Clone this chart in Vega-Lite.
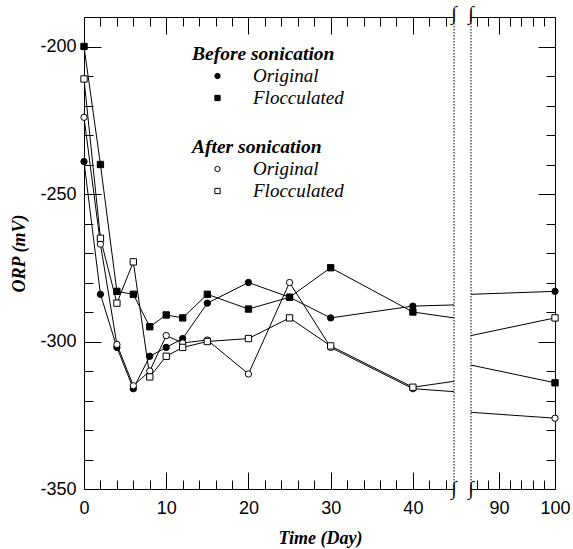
{
  "$schema": "https://vega.github.io/schema/vega-lite/v6.json",
  "padding": {"left": 10, "top": 4, "right": 0, "bottom": 5},
  "bounds": "flush",
  "spacing": 17,
  "config": {
    "view": {"stroke": null},
    "axis": {"domainColor": "black", "tickColor": "black", "labelColor": "black", "titleColor": "black", "labelFont": "Liberation Sans", "labelFontSize": 18, "labelFlush": false, "labelExpr": "'' + datum.value", "titleFont": "Liberation Serif", "titleFontSize": 18, "titleFontWeight": "bold", "titleFontStyle": "italic", "grid": false, "domainWidth": 1, "tickWidth": 1},
    "legend": {"titleFont": "Liberation Serif", "titleFontSize": 19.5, "titleFontWeight": "bold", "titleFontStyle": "italic", "titleColor": "black", "labelFont": "Liberation Serif", "labelFontSize": 19, "labelFontStyle": "italic", "labelColor": "black", "symbolSize": 28, "symbolOffset": 16, "labelOffset": 26, "rowPadding": 2, "titlePadding": 2, "padding": 0, "symbolStrokeWidth": 1}
  },
  "datasets": {
    "orp": [
      {"series": "BO", "stage": "Before sonication", "type": "Original", "day": 0, "orp": -239},
      {"series": "BO", "stage": "Before sonication", "type": "Original", "day": 2, "orp": -284},
      {"series": "BO", "stage": "Before sonication", "type": "Original", "day": 4, "orp": -302},
      {"series": "BO", "stage": "Before sonication", "type": "Original", "day": 6, "orp": -316},
      {"series": "BO", "stage": "Before sonication", "type": "Original", "day": 8, "orp": -305},
      {"series": "BO", "stage": "Before sonication", "type": "Original", "day": 10, "orp": -302},
      {"series": "BO", "stage": "Before sonication", "type": "Original", "day": 12, "orp": -299},
      {"series": "BO", "stage": "Before sonication", "type": "Original", "day": 15, "orp": -287},
      {"series": "BO", "stage": "Before sonication", "type": "Original", "day": 20, "orp": -280},
      {"series": "BO", "stage": "Before sonication", "type": "Original", "day": 25, "orp": -285},
      {"series": "BO", "stage": "Before sonication", "type": "Original", "day": 30, "orp": -292},
      {"series": "BO", "stage": "Before sonication", "type": "Original", "day": 40, "orp": -288},
      {"series": "BO", "stage": "Before sonication", "type": "Original", "day": 45, "orp": -287.6},
      {"series": "BO", "stage": "Before sonication", "type": "Original", "day": 85, "orp": -284},
      {"series": "BO", "stage": "Before sonication", "type": "Original", "day": 100, "orp": -283},
      {"series": "BF", "stage": "Before sonication", "type": "Flocculated", "day": 0, "orp": -200},
      {"series": "BF", "stage": "Before sonication", "type": "Flocculated", "day": 2, "orp": -240},
      {"series": "BF", "stage": "Before sonication", "type": "Flocculated", "day": 4, "orp": -283},
      {"series": "BF", "stage": "Before sonication", "type": "Flocculated", "day": 6, "orp": -284},
      {"series": "BF", "stage": "Before sonication", "type": "Flocculated", "day": 8, "orp": -295},
      {"series": "BF", "stage": "Before sonication", "type": "Flocculated", "day": 10, "orp": -291},
      {"series": "BF", "stage": "Before sonication", "type": "Flocculated", "day": 12, "orp": -292},
      {"series": "BF", "stage": "Before sonication", "type": "Flocculated", "day": 15, "orp": -284},
      {"series": "BF", "stage": "Before sonication", "type": "Flocculated", "day": 20, "orp": -289},
      {"series": "BF", "stage": "Before sonication", "type": "Flocculated", "day": 25, "orp": -285},
      {"series": "BF", "stage": "Before sonication", "type": "Flocculated", "day": 30, "orp": -275},
      {"series": "BF", "stage": "Before sonication", "type": "Flocculated", "day": 40, "orp": -290},
      {"series": "BF", "stage": "Before sonication", "type": "Flocculated", "day": 45, "orp": -292},
      {"series": "BF", "stage": "Before sonication", "type": "Flocculated", "day": 85, "orp": -308},
      {"series": "BF", "stage": "Before sonication", "type": "Flocculated", "day": 100, "orp": -314},
      {"series": "AO", "stage": "After sonication", "type": "Original", "day": 0, "orp": -224},
      {"series": "AO", "stage": "After sonication", "type": "Original", "day": 2, "orp": -267},
      {"series": "AO", "stage": "After sonication", "type": "Original", "day": 4, "orp": -301},
      {"series": "AO", "stage": "After sonication", "type": "Original", "day": 6, "orp": -315},
      {"series": "AO", "stage": "After sonication", "type": "Original", "day": 8, "orp": -310},
      {"series": "AO", "stage": "After sonication", "type": "Original", "day": 10, "orp": -298},
      {"series": "AO", "stage": "After sonication", "type": "Original", "day": 12, "orp": -300.5},
      {"series": "AO", "stage": "After sonication", "type": "Original", "day": 15, "orp": -299.5},
      {"series": "AO", "stage": "After sonication", "type": "Original", "day": 20, "orp": -311},
      {"series": "AO", "stage": "After sonication", "type": "Original", "day": 25, "orp": -280},
      {"series": "AO", "stage": "After sonication", "type": "Original", "day": 30, "orp": -302},
      {"series": "AO", "stage": "After sonication", "type": "Original", "day": 40, "orp": -316},
      {"series": "AO", "stage": "After sonication", "type": "Original", "day": 45, "orp": -317},
      {"series": "AO", "stage": "After sonication", "type": "Original", "day": 85, "orp": -324},
      {"series": "AO", "stage": "After sonication", "type": "Original", "day": 100, "orp": -326},
      {"series": "AF", "stage": "After sonication", "type": "Flocculated", "day": 0, "orp": -211},
      {"series": "AF", "stage": "After sonication", "type": "Flocculated", "day": 2, "orp": -265},
      {"series": "AF", "stage": "After sonication", "type": "Flocculated", "day": 4, "orp": -287},
      {"series": "AF", "stage": "After sonication", "type": "Flocculated", "day": 6, "orp": -273},
      {"series": "AF", "stage": "After sonication", "type": "Flocculated", "day": 8, "orp": -312},
      {"series": "AF", "stage": "After sonication", "type": "Flocculated", "day": 10, "orp": -305},
      {"series": "AF", "stage": "After sonication", "type": "Flocculated", "day": 12, "orp": -302},
      {"series": "AF", "stage": "After sonication", "type": "Flocculated", "day": 15, "orp": -300},
      {"series": "AF", "stage": "After sonication", "type": "Flocculated", "day": 20, "orp": -299},
      {"series": "AF", "stage": "After sonication", "type": "Flocculated", "day": 25, "orp": -292},
      {"series": "AF", "stage": "After sonication", "type": "Flocculated", "day": 30, "orp": -301.5},
      {"series": "AF", "stage": "After sonication", "type": "Flocculated", "day": 40, "orp": -315.5},
      {"series": "AF", "stage": "After sonication", "type": "Flocculated", "day": 45, "orp": -313.5},
      {"series": "AF", "stage": "After sonication", "type": "Flocculated", "day": 85, "orp": -298},
      {"series": "AF", "stage": "After sonication", "type": "Flocculated", "day": 100, "orp": -292}
    ]
  },
  "hconcat": [
    {
      "width": 370,
      "height": 472,
      "data": {"name": "orp"},
      "transform": [{"filter": "datum.day <= 45"}],
      "layer": [
        {
          "mark": {"type": "line", "color": "black", "strokeWidth": 1},
          "encoding": {
            "x": {"field": "day", "type": "quantitative", "scale": {"domain": [0, 45], "nice": false, "zero": false},
                  "axis": {"orient": "bottom", "values": [0, 10, 20, 30, 40], "tickSize": -17, "labelPadding": 27, "title": "Time (Day)", "titleX": 236, "titleAlign": "center", "titlePadding": 12}},
            "y": {"field": "orp", "type": "quantitative", "scale": {"domain": [-350, -190], "nice": false, "zero": false},
                  "axis": {"orient": "left", "values": [-350, -300, -250, -200], "tickSize": -17, "labelPadding": 25, "title": "ORP (mV)", "titlePadding": 11}},
            "detail": {"field": "series"}
          }
        },
        {
          "transform": [{"filter": "datum.day <= 40 && datum.stage == 'Before sonication'"}],
          "mark": {"type": "point", "filled": true, "fill": "black", "stroke": "black", "strokeWidth": 1, "size": 40, "opacity": 1},
          "encoding": {
            "x": {"field": "day", "type": "quantitative",
                  "axis": {"orient": "bottom", "values": [2, 4, 6, 8, 12, 14, 16, 18, 22, 24, 26, 28, 32, 34, 36, 38, 42, 44], "tickSize": -9, "labels": false, "domain": false, "title": null}},
            "y": {"field": "orp", "type": "quantitative",
                  "axis": {"orient": "left", "values": [-340, -330, -320, -310, -290, -280, -270, -260, -240, -230, -220, -210], "tickSize": -9, "labels": false, "domain": false, "title": null}},
            "shape": {"field": "type", "type": "nominal", "scale": {"domain": ["Original", "Flocculated"], "range": ["circle", "square"]},
                      "legend": {"title": "Before sonication", "orient": "none", "legendX": 108, "legendY": 28,
                                 "encode": {"symbols": {"update": {"fill": {"value": "black"}, "stroke": {"value": "black"}, "strokeWidth": {"value": 1}, "opacity": {"value": 1}}}}}}
          }
        },
        {
          "transform": [{"filter": "datum.day <= 40 && datum.stage == 'After sonication'"}],
          "mark": {"type": "point", "filled": true, "fill": "white", "stroke": "black", "strokeWidth": 1, "size": 40, "opacity": 1},
          "encoding": {
            "x": {"field": "day", "type": "quantitative",
                  "axis": {"orient": "top", "values": [0, 10, 20, 30, 40], "tickSize": -17, "labels": false, "domain": true, "title": null}},
            "y": {"field": "orp", "type": "quantitative", "axis": null},
            "shape": {"field": "type", "type": "nominal", "scale": {"domain": ["Original", "Flocculated"], "range": ["circle", "square"]},
                      "legend": {"title": "After sonication", "orient": "none", "legendX": 108, "legendY": 121,
                                 "encode": {"symbols": {"update": {"fill": {"value": "white"}, "stroke": {"value": "black"}, "strokeWidth": {"value": 1}, "opacity": {"value": 1}}}}}}
          }
        },
        {
          "data": {"values": [{}]},
          "mark": {"type": "rule", "color": "black", "strokeWidth": 1, "strokeDash": [1.5, 1.5]},
          "encoding": {
            "x": {"datum": 45, "type": "quantitative",
                  "axis": {"orient": "top", "values": [2, 4, 6, 8, 12, 14, 16, 18, 22, 24, 26, 28, 32, 34, 36, 38, 42, 44], "tickSize": -9, "labels": false, "domain": false, "title": null}}
          }
        },
        {
          "data": {"values": [{}]},
          "mark": {"type": "text", "text": "∫", "font": "Liberation Serif", "fontSize": 20, "align": "center", "baseline": "middle", "dy": -3, "color": "black"},
          "encoding": {
            "x": {"datum": 45, "type": "quantitative", "axis": null},
            "y": {"datum": -190, "type": "quantitative", "axis": null}
          }
        },
        {
          "data": {"values": [{}]},
          "mark": {"type": "text", "text": "∫", "font": "Liberation Serif", "fontSize": 20, "align": "center", "baseline": "middle", "color": "black"},
          "encoding": {
            "x": {"datum": 45, "type": "quantitative", "axis": null},
            "y": {"datum": -350, "type": "quantitative", "axis": null}
          }
        }
      ],
      "resolve": {"scale": {"shape": "independent"}, "axis": {"x": "independent", "y": "independent"}}
    },
    {
      "width": 84,
      "height": 472,
      "data": {"name": "orp"},
      "transform": [{"filter": "datum.day >= 85"}],
      "layer": [
        {
          "mark": {"type": "line", "color": "black", "strokeWidth": 1},
          "encoding": {
            "x": {"field": "day", "type": "quantitative", "scale": {"domain": [85, 100], "nice": false, "zero": false},
                  "axis": {"orient": "bottom", "values": [90, 100], "tickSize": -17, "labelPadding": 27, "title": null}},
            "y": {"field": "orp", "type": "quantitative", "scale": {"domain": [-350, -190], "nice": false, "zero": false},
                  "axis": {"orient": "right", "values": [-350, -300, -250, -200], "tickSize": -17, "labels": false, "title": null}},
            "detail": {"field": "series"}
          }
        },
        {
          "transform": [{"filter": "datum.day == 100 && datum.stage == 'Before sonication'"}],
          "mark": {"type": "point", "filled": true, "fill": "black", "stroke": "black", "strokeWidth": 1, "size": 40, "opacity": 1},
          "encoding": {
            "x": {"field": "day", "type": "quantitative",
                  "axis": {"orient": "bottom", "values": [86, 88, 92, 94, 96, 98], "tickSize": -9, "labels": false, "domain": false, "title": null}},
            "y": {"field": "orp", "type": "quantitative",
                  "axis": {"orient": "right", "values": [-340, -330, -320, -310, -290, -280, -270, -260, -240, -230, -220, -210], "tickSize": -9, "labels": false, "domain": false, "title": null}},
            "shape": {"field": "type", "type": "nominal", "scale": {"domain": ["Original", "Flocculated"], "range": ["circle", "square"]}, "legend": null}
          }
        },
        {
          "transform": [{"filter": "datum.day == 100 && datum.stage == 'After sonication'"}],
          "mark": {"type": "point", "filled": true, "fill": "white", "stroke": "black", "strokeWidth": 1, "size": 40, "opacity": 1},
          "encoding": {
            "x": {"field": "day", "type": "quantitative",
                  "axis": {"orient": "top", "values": [90, 100], "tickSize": -17, "labels": false, "domain": true, "title": null}},
            "y": {"field": "orp", "type": "quantitative", "axis": null},
            "shape": {"field": "type", "type": "nominal", "scale": {"domain": ["Original", "Flocculated"], "range": ["circle", "square"]}, "legend": null}
          }
        },
        {
          "data": {"values": [{}]},
          "mark": {"type": "rule", "color": "black", "strokeWidth": 1, "strokeDash": [1.5, 1.5]},
          "encoding": {
            "x": {"datum": 85, "type": "quantitative",
                  "axis": {"orient": "top", "values": [86, 88, 92, 94, 96, 98], "tickSize": -9, "labels": false, "domain": false, "title": null}}
          }
        },
        {
          "data": {"values": [{}]},
          "mark": {"type": "text", "text": "∫", "font": "Liberation Serif", "fontSize": 20, "align": "center", "baseline": "middle", "dy": -3, "color": "black"},
          "encoding": {
            "x": {"datum": 85, "type": "quantitative", "axis": null},
            "y": {"datum": -190, "type": "quantitative", "axis": null}
          }
        },
        {
          "data": {"values": [{}]},
          "mark": {"type": "text", "text": "∫", "font": "Liberation Serif", "fontSize": 20, "align": "center", "baseline": "middle", "color": "black"},
          "encoding": {
            "x": {"datum": 85, "type": "quantitative", "axis": null},
            "y": {"datum": -350, "type": "quantitative", "axis": null}
          }
        }
      ],
      "resolve": {"scale": {"shape": "independent"}, "axis": {"x": "independent", "y": "independent"}}
    }
  ]
}
